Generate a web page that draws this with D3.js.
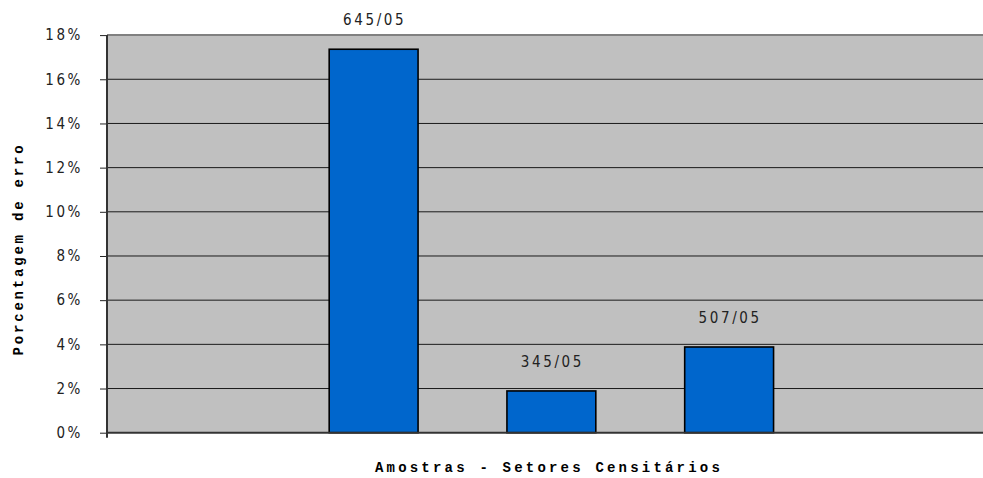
<!DOCTYPE html>
<html><head><meta charset="utf-8">
<script src="https://cdn.jsdelivr.net/npm/d3@7"></script>
<style>
body{margin:0;background:#fff;}
svg{display:block;}
.tick text{font-family:"Liberation Sans Narrow","DejaVu Sans Condensed",sans-serif;}
</style></head>
<body>
<svg id="c" width="983" height="478"></svg>
<script>
const categories = ["", "645/05", "345/05", "507/05", ""];
const values = [null, 17.36, 1.89, 3.88, null];
const yTicks = [0, 2, 4, 6, 8, 10, 12, 14, 16, 18];
const yTitle = "Porcentagem de erro";
const xTitle = "Amostras - Setores Censitários";

(function () {
const svg = d3.select("#c");
const pLeft = 107, pTop = 35.1, pBottom = 432.7, pRight = 995.75;

const x = d3.scaleBand().domain(d3.range(categories.length)).range([pLeft, pRight]).paddingInner(0.5).paddingOuter(0.25);
const y = d3.scaleLinear().domain([0, 18]).range([pBottom, pTop]);

svg.append("rect").attr("x", pLeft).attr("y", pTop).attr("width", pRight - pLeft).attr("height", pBottom - pTop).attr("fill", "#C0C0C0");

// gridlines
svg.append("g").selectAll("line").data(yTicks.filter(t => t > 0 && t < 18)).join("line")
  .attr("x1", pLeft).attr("x2", pRight).attr("y1", d => y(d)).attr("y2", d => y(d))
  .attr("stroke", "#1a1a1a").attr("stroke-width", 1);
svg.append("line").attr("x1", pLeft).attr("x2", pRight).attr("y1", y(18)).attr("y2", y(18))
  .attr("stroke", "#808080").attr("stroke-width", 2);

// bars
const data = categories.map((c, i) => ({c, i, v: values[i]})).filter(d => d.v != null);
svg.append("g").selectAll("rect").data(data).join("rect")
  .attr("x", d => x(d.i)).attr("width", x.bandwidth())
  .attr("y", d => y(d.v)).attr("height", d => y(0) - y(d.v))
  .attr("fill", "#0066CC").attr("stroke", "#000").attr("stroke-width", 1.6);

// bar labels
svg.append("g").selectAll("text").data(data).join("text")
  .attr("x", d => x(d.i) + x.bandwidth() / 2 + 1)
  .attr("y", d => y(d.v) - 24)
  .attr("text-anchor", "middle")
  .attr("font-family", '"Liberation Sans Narrow","DejaVu Sans Condensed",sans-serif')
  .attr("font-size", 15).attr("letter-spacing", "2.6px").attr("fill", "#222")
  .text(d => d.c);

// x axis baseline
svg.append("line").attr("x1", pLeft).attr("x2", pRight).attr("y1", pBottom).attr("y2", pBottom)
  .attr("stroke", "#333").attr("stroke-width", 2);

// y axis
const yAxis = d3.axisLeft(y).tickValues(yTicks).tickFormat(d => d + "%").tickSize(7).tickPadding(17);
const ga = svg.append("g").attr("transform", `translate(${pLeft},0)`).call(yAxis);
ga.select(".domain").remove();
ga.selectAll(".tick line").attr("stroke", "#222");
ga.selectAll(".tick text").attr("font-size", 15).attr("letter-spacing", "2.6px").attr("fill", "#222");
svg.append("line").attr("x1", pLeft).attr("x2", pLeft).attr("y1", pTop).attr("y2", pBottom + 5)
  .attr("stroke", "#333").attr("stroke-width", 2);

// titles
const monoFont = '"Courier New","Liberation Mono","DejaVu Sans Mono",monospace';
svg.append("text").attr("transform", "translate(23,249) rotate(-90)").attr("text-anchor", "middle")
  .attr("font-family", monoFont).attr("font-weight", "bold")
  .attr("font-size", 14).attr("letter-spacing", "2.8px").attr("fill", "#000").text(yTitle);
svg.append("text").attr("x", 549).attr("y", 472).attr("text-anchor", "middle")
  .attr("font-family", monoFont).attr("font-weight", "bold")
  .attr("font-size", 14).attr("letter-spacing", "3.2px").attr("fill", "#000").text(xTitle);
})();
</script>
</body></html>
